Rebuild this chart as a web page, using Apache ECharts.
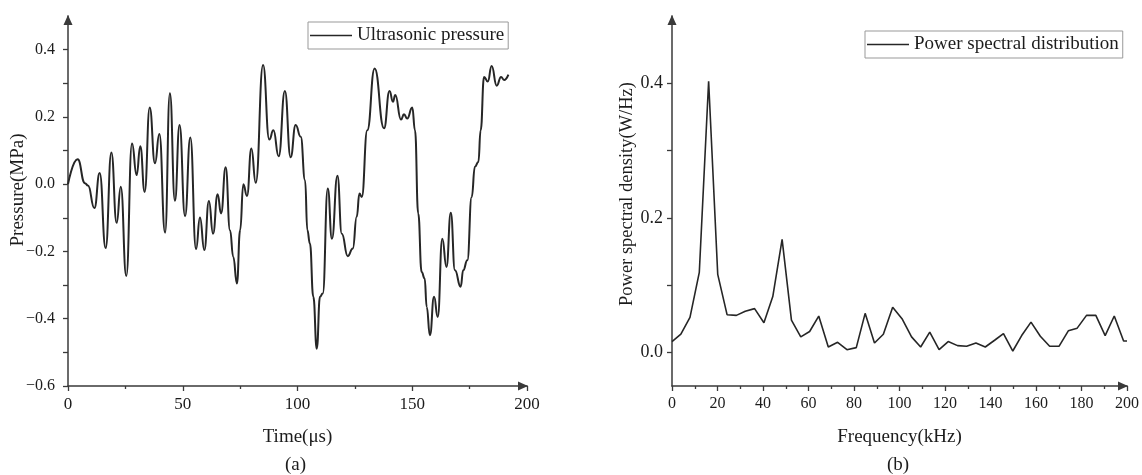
<!DOCTYPE html>
<html>
<head>
<meta charset="utf-8">
<script src="https://cdn.jsdelivr.net/npm/echarts@6/dist/echarts.min.js"></script>
<style>
  html, body { margin: 0; background: #fff; }
  #chart { width: 1142px; height: 475px; }
</style>
</head>
<body>
<div id="chart"></div>
<script>
// (a) ultrasonic pressure vs time
const timeUs = [0, 4.2, 7.4, 8.7, 11.5, 13.8, 16.4, 18.9, 21.2, 23.0, 25.4, 27.9, 29.9, 31.5, 33.4, 35.6,
  37.9, 39.8, 42.3, 44.4, 46.6, 48.6, 51.0, 53.3, 55.8, 57.5, 59.4, 61.4, 63.2, 65.2, 66.7, 68.7, 70.6,
  72.0, 73.6, 75.0, 76.4, 78.0, 79.9, 81.8, 85.0, 87.7, 89.5, 91.8, 94.5, 97.0, 99.2, 101.4, 103.3,
  104.3, 105.4, 106.9, 108.4, 109.8, 111.0, 113.2, 115.0, 117.4, 119.3, 121.9, 124.1, 125.8, 127.0,
  128.0, 130.4, 133.6, 137.7, 140.1, 141.6, 142.6, 145.1, 146.4, 147.8, 150.0, 151.2, 152.6, 154.1,
  155.4, 156.3, 157.7, 159.5, 161.1, 163.1, 164.9, 166.8, 168.6, 171.1, 172.2, 174.0, 175.9, 177.3,
  178.8, 179.8, 181.3, 182.9, 184.6, 186.8, 188.7, 190.0, 191.9];
const pressure = [0, 0.074, 0.003, -0.004, -0.071, 0.033, -0.19, 0.094, -0.115, -0.008, -0.273, 0.121,
  0.027, 0.113, -0.023, 0.228, 0.062, 0.149, -0.144, 0.27, -0.049, 0.176, -0.095, 0.139, -0.193, -0.099,
  -0.196, -0.05, -0.147, -0.03, -0.087, 0.05, -0.137, -0.216, -0.295, -0.137, 0.0, -0.035, 0.106, 0.004,
  0.354, 0.133, 0.16, 0.083, 0.277, 0.08, 0.176, 0.141, 0.012, -0.137, -0.176, -0.335, -0.489, -0.335,
  -0.325, -0.013, -0.162, 0.025, -0.147, -0.214, -0.191, -0.097, -0.028, -0.038, 0.16, 0.344, 0.166,
  0.277, 0.245, 0.265, 0.192, 0.208, 0.195, 0.228, 0.16, -0.087, -0.261, -0.28, -0.365, -0.449, -0.335,
  -0.395, -0.162, -0.246, -0.085, -0.256, -0.305, -0.256, -0.226, -0.038, 0.052, 0.066, 0.16, 0.319,
  0.305, 0.351, 0.293, 0.319, 0.31, 0.326];

// (b) power spectral density vs frequency
const freqKHz = [0, 3.9, 7.9, 12.0, 16.1, 20.1, 24.2, 28.3, 32.2, 36.3, 40.4, 44.3, 48.4, 52.5, 56.6,
  60.5, 64.5, 68.7, 72.8, 76.9, 81.0, 84.9, 89.0, 92.9, 97.0, 101.1, 105.3, 109.3, 113.3, 117.4, 121.4,
  125.5, 129.5, 133.6, 137.7, 141.8, 145.7, 149.8, 153.7, 157.8, 161.9, 166.0, 170.1, 174.2, 178.1,
  182.2, 186.3, 190.4, 194.4, 198.5, 200];
const psd = [0.016, 0.027, 0.052, 0.119, 0.403, 0.116, 0.056, 0.055, 0.061, 0.065, 0.044, 0.083, 0.168,
  0.048, 0.023, 0.031, 0.054, 0.008, 0.015, 0.004, 0.007, 0.058, 0.014, 0.027, 0.067, 0.05, 0.023,
  0.008, 0.03, 0.004, 0.016, 0.01, 0.009, 0.014, 0.008, 0.018, 0.028, 0.002, 0.025, 0.045, 0.024,
  0.009, 0.009, 0.032, 0.036, 0.055, 0.055, 0.025, 0.054, 0.017, 0.017];

const pressureTicks = [-0.6, -0.5, -0.4, -0.3, -0.2, -0.1, 0, 0.1, 0.2, 0.3, 0.4];
const pressureLabels = [-0.6, -0.4, -0.2, 0, 0.2, 0.4];
const psdTicks = [0, 0.1, 0.2, 0.3, 0.4];
const psdLabels = [0, 0.2, 0.4];

const FONT = 'Liberation Serif';
const INK = '#1c1c1c';
const AXIS = '#3a3a3a';
const LINE = '#262626';

function fmt(v) {
  return v.toFixed(1).replace('-', '\u2212');
}

function xAxisOf(gridIndex, interval, name, labelSize) {
  return {
    type: 'value', gridIndex: gridIndex, min: 0, max: 200, interval: interval,
    name: name, nameLocation: 'middle', nameGap: 42, nameMoveOverlap: false,
    nameTextStyle: { fontFamily: FONT, fontSize: 19, color: INK },
    axisLine: { onZero: false, lineStyle: { color: AXIS, width: 1.5 },
      symbol: ['none', 'triangle'], symbolSize: [9, 10], symbolOffset: [0, -4] },
    axisTick: { length: 5, lineStyle: { width: 1.3 } },
    minorTick: { show: true, splitNumber: 2, length: 3, lineStyle: { color: AXIS, width: 1.3 } },
    axisLabel: { fontFamily: FONT, fontSize: labelSize, color: INK, margin: 10 },
    splitLine: { show: false }
  };
}

function yAxisOf(gridIndex, min, ticks, labels, name, nameSize, gap, shift, labelSize, margin) {
  return {
    type: 'value', gridIndex: gridIndex, min: min, max: 0.5,
    name: name, nameLocation: 'middle', nameGap: gap, nameRotate: 90, nameMoveOverlap: false,
    nameTextStyle: { fontFamily: FONT, fontSize: nameSize, color: INK, padding: [0, 0, 0, shift] },
    axisLine: { onZero: false, lineStyle: { color: AXIS, width: 1.5 },
      symbol: ['none', 'triangle'], symbolSize: [9, 10], symbolOffset: [0, -4] },
    axisTick: { length: 5, customValues: ticks, lineStyle: { width: 1.3 } },
    axisLabel: { fontFamily: FONT, fontSize: labelSize, color: INK, margin: margin,
      customValues: labels, formatter: fmt },
    splitLine: { show: false }
  };
}

const legendBase = {
  orient: 'horizontal', icon: 'rect',
  itemWidth: 42, itemHeight: 1.6, itemGap: 6,
  padding: [4, 4, 4, 2], borderColor: '#999', borderWidth: 1,
  itemStyle: { color: LINE },
  textStyle: { fontFamily: FONT, fontSize: 19, color: INK }
};

const chart = echarts.init(document.getElementById('chart'));
chart.setOption({
  animation: false,
  backgroundColor: '#fff',
  grid: [
    { left: 68, top: 16, width: 459, height: 370 },
    { left: 672, top: 16, width: 457, height: 370 }
  ],
  legend: [
    Object.assign({}, legendBase, { data: ['Ultrasonic pressure'], left: 308, top: 22 }),
    Object.assign({}, legendBase, { data: ['Power spectral distribution'], left: 865, top: 31 })
  ],
  xAxis: [
    xAxisOf(0, 50, 'Time(\u03bcs)', 17),
    xAxisOf(1, 20, 'Frequency(kHz)', 16)
  ],
  yAxis: [
    yAxisOf(0, -0.6, pressureTicks, pressureLabels, 'Pressure(MPa)', 19, 40, 22, 16, 13),
    yAxisOf(1, -0.05, psdTicks, psdLabels, 'Power spectral density(W/Hz)', 18.5, 35, 14, 18, 9)
  ],
  graphic: [
    { type: 'text', left: 285, top: 456, style: { text: '(a)', fontFamily: FONT, fontSize: 19, fill: INK } },
    { type: 'text', left: 887, top: 456, style: { text: '(b)', fontFamily: FONT, fontSize: 19, fill: INK } }
  ],
  series: [
    {
      name: 'Ultrasonic pressure', type: 'line', xAxisIndex: 0, yAxisIndex: 0,
      data: timeUs.map((t, i) => [t, pressure[i]]),
      symbol: 'none', smooth: 0.5, smoothMonotone: 'x',
      lineStyle: { color: LINE, width: 2 }, itemStyle: { color: LINE }
    },
    {
      name: 'Power spectral distribution', type: 'line', xAxisIndex: 1, yAxisIndex: 1,
      data: freqKHz.map((f, i) => [f, psd[i]]),
      symbol: 'none',
      lineStyle: { color: LINE, width: 1.6 }, itemStyle: { color: LINE }
    }
  ]
});
</script>
</body>
</html>
